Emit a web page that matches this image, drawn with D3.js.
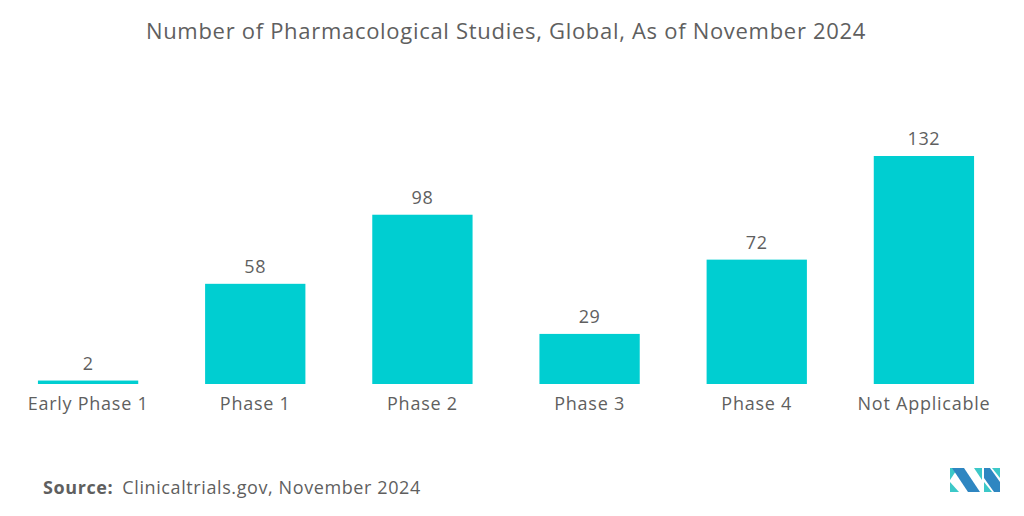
<!DOCTYPE html>
<html>
<head>
<meta charset="utf-8">
<script src="https://cdn.jsdelivr.net/npm/d3@7"></script>
<style>
  body { margin: 0; background: #fff; }
  svg { display: block; font-family: "Open Sans", "Lato", sans-serif; }
</style>
</head>
<body>
<svg id="chart"></svg>
<script>
var width = 1024;
var height = 516;

var categories = ["Early Phase 1", "Phase 1", "Phase 2", "Phase 3", "Phase 4", "Not Applicable"];
var studies = [2, 58, 98, 29, 72, 132];

var barColor = "#00ced1";
var textColor = "#5f5f5f";
var fontFam = "'Open Sans', Lato, sans-serif";

var svg = d3.select("#chart")
    .attr("width", width)
    .attr("height", height);

var xScale = d3.scaleBand()
    .domain(categories)
    .range([4.5, 1007.5])
    .paddingInner(0.4)
    .paddingOuter(0.2);

var yScale = d3.scaleLinear()
    .domain([0, 132])
    .range([384, 156]);

var data = categories.map(function(c, i) { return { cat: c, value: studies[i] }; });

// bars
svg.selectAll("rect.bar")
  .data(data)
  .enter()
  .append("rect")
    .attr("class", "bar")
    .attr("x", d => xScale(d.cat))
    .attr("y", d => yScale(d.value))
    .attr("width", xScale.bandwidth())
    .attr("height", d => yScale(0) - yScale(d.value))
    .attr("fill", barColor);

// value labels
svg.selectAll("text.val")
  .data(data)
  .enter()
  .append("text")
    .attr("class", "val")
    .attr("x", d => xScale(d.cat) + xScale.bandwidth() / 2)
    .attr("y", d => yScale(d.value) - 11)
    .style("text-anchor", "middle")
    .style("font-size", "18px")
    .style("letter-spacing", "0.6px")
    .attr("fill", textColor)
    .text(d => d.value);

// category axis, no line or ticks
var xAxis = d3.axisBottom(xScale).tickSize(0).tickPadding(13);
var gx = svg.append("g")
    .attr("transform", "translate(0," + yScale(0) + ")")
    .call(xAxis);
gx.select(".domain").remove();
gx.selectAll("text")
    .style("font-size", "18px")
    .style("letter-spacing", "0.75px")
    .style("font-family", fontFam)
    .attr("fill", textColor);

// title
svg.append("text")
    .attr("x", 506)
    .attr("y", 39)
    .style("text-anchor", "middle")
    .style("font-size", "22px")
    .style("letter-spacing", "0.7px")
    .attr("fill", textColor)
    .text("Number of Pharmacological Studies, Global, As of November 2024");

// source
var src = svg.append("text")
    .attr("x", 43)
    .attr("y", 494)
    .style("font-size", "18px")
    .style("letter-spacing", "0.6px")
    .attr("fill", textColor);
src.append("tspan").style("font-weight", "bold").text("Source:");
src.append("tspan").attr("dx", 9).text("Clinicaltrials.gov, November 2024");

// logo
var logo = svg.append("g").attr("transform", "translate(950,468)");
logo.append("path").attr("d", "M0,0 L8,0 L0,12 Z").attr("fill", "#3cc8c8");
logo.append("path").attr("d", "M0,14 L9,24 L0,24 Z").attr("fill", "#3cc8c8");
logo.append("path").attr("d", "M2,0 L14,0 L30,24 L18,24 Z").attr("fill", "#2e86c1");
logo.append("path").attr("d", "M24,0 L32,0 L32,12 Z").attr("fill", "#3cc8c8");
logo.append("path").attr("d", "M34,0 L40,0 L50,14 L50,24 L44,24 L34,10 Z").attr("fill", "#2e86c1");
logo.append("path").attr("d", "M42,0 L50,0 L50,10 Z").attr("fill", "#3cc8c8");
logo.append("path").attr("d", "M34,14 L42,24 L34,24 Z").attr("fill", "#3cc8c8");
</script>
</body>
</html>
